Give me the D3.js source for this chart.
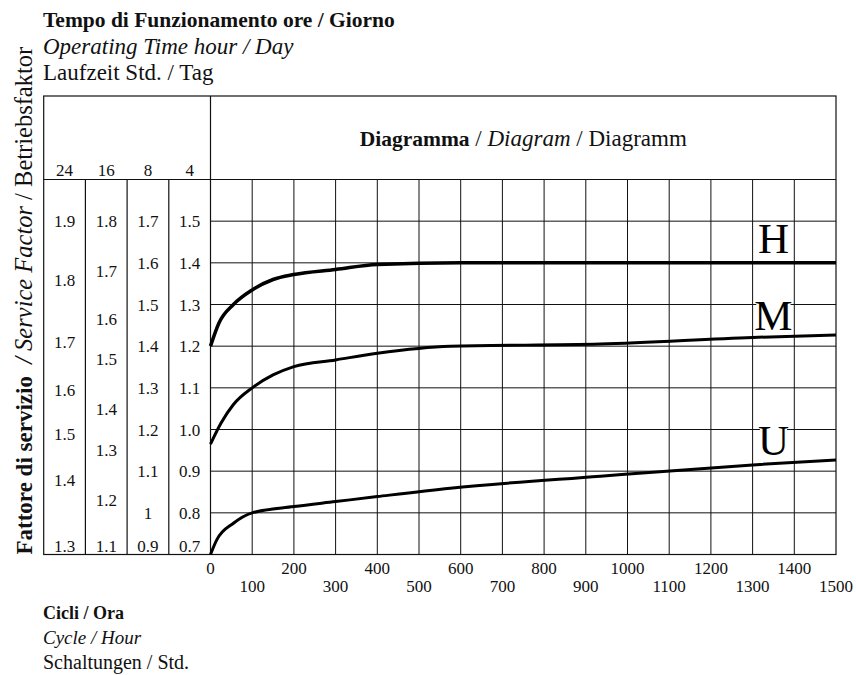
<!DOCTYPE html>
<html>
<head>
<meta charset="utf-8">
<script src="https://cdn.jsdelivr.net/npm/d3@7"></script>
<style>
  html, body { margin: 0; padding: 0; background: #fff; }
  svg { display: block; font-family: "Liberation Serif", "Times New Roman", serif; }
</style>
</head>
<body>
<svg id="chart" width="856" height="675"></svg>
<script>
// Cycles per hour (x) and service factor on the 4 h/day scale (y)
const cycleTicks = [0, 100, 200, 300, 400, 500, 600, 700, 800, 900, 1000, 1100, 1200, 1300, 1400, 1500];

const hCycles = [0, 20, 55, 100, 150, 200, 300, 400, 600, 1500];
const hFactor = [1.2, 1.255, 1.3, 1.335, 1.36, 1.372, 1.384, 1.396, 1.4, 1.4];

const mCycles = [0, 25, 55, 100, 150, 200, 300, 400, 575, 935, 1300, 1500];
const mFactor = [0.965, 1.015, 1.06, 1.1, 1.131, 1.151, 1.167, 1.183, 1.2, 1.205, 1.221, 1.227];

const uCycles = [0, 15, 55, 100, 200, 300, 400, 575, 935, 1300, 1500];
const uFactor = [0.7, 0.735, 0.775, 0.8, 0.815, 0.827, 0.839, 0.859, 0.888, 0.915, 0.927];

const curveNames = ["H", "M", "U"];

// Operating time columns (hours/day) with their factor labels and the
// equivalent factor on the 4 h/day scale for each label
const hoursPerDay = ["24", "16", "8", "4"];
const col24Labels = ["1.9", "1.8", "1.7", "1.6", "1.5", "1.4", "1.3"];
const col24Equiv  = [1.5, 1.36, 1.21, 1.095, 0.99, 0.88, 0.7];
const col16Labels = ["1.8", "1.7", "1.6", "1.5", "1.4", "1.3", "1.2", "1.1"];
const col16Equiv  = [1.5, 1.38, 1.265, 1.17, 1.05, 0.95, 0.83, 0.7];
const col8Labels  = ["1.7", "1.6", "1.5", "1.4", "1.3", "1.2", "1.1", "1", "0.9"];
const col8Equiv   = [1.5, 1.4, 1.3, 1.2, 1.1, 1.0, 0.9, 0.8, 0.7];
const col4Labels  = ["1.5", "1.4", "1.3", "1.2", "1.1", "1.0", "0.9", "0.8", "0.7"];
const col4Equiv   = [1.5, 1.4, 1.3, 1.2, 1.1, 1.0, 0.9, 0.8, 0.7];
const factorGrid  = [0.8, 0.9, 1.0, 1.1, 1.2, 1.3, 1.4, 1.5];

const svg = d3.select("#chart");

const x = d3.scaleLinear().domain([0, 1500]).range([210.5, 836]);
const y = d3.scaleLinear().domain([0.7, 1.6]).range([554.5, 179.5]);
const step = x(100) - x(0);

const boxLeft = x(0) - 4 * step;
const boxRight = x(1500);
const boxTop = 96;
const headerBottom = y(1.6);
const boxBottom = y(0.7);

const ink = "#111";

// Titles above the table
const titles = svg.append("g").attr("font-size", 23).attr("fill", ink);
titles.append("text").attr("x", 43).attr("y", 27).attr("font-weight", "bold")
  .attr("font-size", 21.5)
  .text("Tempo di Funzionamento ore / Giorno");
titles.append("text").attr("x", 43).attr("y", 54).attr("font-style", "italic")
  .text("Operating Time hour / Day");
titles.append("text").attr("x", 43).attr("y", 80)
  .text("Laufzeit Std. / Tag");

// Grid: vertical lines for cycles, horizontal lines for factor
const grid = svg.append("g").attr("stroke", ink).attr("stroke-width", 1).attr("fill", "none");
grid.selectAll("line.v").data(cycleTicks.filter(d => d > 0 && d < 1500)).join("line")
  .attr("class", "v")
  .attr("x1", d => x(d)).attr("x2", d => x(d))
  .attr("y1", headerBottom).attr("y2", boxBottom);
grid.selectAll("line.h").data(factorGrid).join("line")
  .attr("class", "h")
  .attr("x1", x(0)).attr("x2", boxRight)
  .attr("y1", d => y(d)).attr("y2", d => y(d));

// Table frame and column separators
const frame = svg.append("g").attr("stroke", ink).attr("stroke-width", 1.2).attr("fill", "none");
frame.append("rect").attr("x", boxLeft).attr("y", boxTop)
  .attr("width", boxRight - boxLeft).attr("height", boxBottom - boxTop);
frame.append("line").attr("x1", boxLeft).attr("x2", boxRight)
  .attr("y1", headerBottom).attr("y2", headerBottom);
frame.append("line").attr("x1", x(0)).attr("x2", x(0))
  .attr("y1", boxTop).attr("y2", boxBottom);
frame.selectAll("line.col").data([1, 2, 3]).join("line")
  .attr("class", "col")
  .attr("x1", i => boxLeft + i * step).attr("x2", i => boxLeft + i * step)
  .attr("y1", headerBottom).attr("y2", boxBottom);

// Column headers (hours per day)
svg.append("g").attr("font-size", 17).attr("fill", ink).attr("text-anchor", "middle")
  .selectAll("text").data(hoursPerDay).join("text")
  .attr("x", (d, i) => boxLeft + (i + 0.5) * step)
  .attr("y", headerBottom - 4)
  .text(d => d);

// Factor labels in each column
const columns = [
  { labels: col24Labels, equiv: col24Equiv },
  { labels: col16Labels, equiv: col16Equiv },
  { labels: col8Labels, equiv: col8Equiv },
  { labels: col4Labels, equiv: col4Equiv }
];
columns.forEach((col, i) => {
  const cx = boxLeft + (i + 0.5) * step;
  svg.append("g").attr("font-size", 17).attr("fill", ink).attr("text-anchor", "middle")
    .selectAll("text").data(col.labels).join("text")
    .attr("x", cx)
    .attr("y", (d, j) => Math.min(y(col.equiv[j]) + 6, boxBottom - 3))
    .text(d => d);
});

// Diagram heading
const head = svg.append("text").attr("x", (x(0) + boxRight) / 2).attr("y", 146)
  .attr("text-anchor", "middle").attr("font-size", 23).attr("fill", ink);
head.append("tspan").attr("font-weight", "bold").attr("font-size", 21.5).text("Diagramma");
head.append("tspan").text(" / ");
head.append("tspan").attr("font-style", "italic").text("Diagram");
head.append("tspan").text(" / Diagramm");

// Cycle tick labels, staggered on two rows
svg.append("g").attr("font-size", 17).attr("fill", ink).attr("text-anchor", "middle")
  .selectAll("text").data(cycleTicks).join("text")
  .attr("x", d => x(d))
  .attr("y", d => (d / 100) % 2 === 0 ? 574 : 592)
  .text(d => d);

// Curves
const line = d3.line()
  .x(d => x(d[0]))
  .y(d => y(d[1]))
  .curve(d3.curveMonotoneX);
const series = [
  d3.zip(hCycles, hFactor),
  d3.zip(mCycles, mFactor),
  d3.zip(uCycles, uFactor)
];
svg.append("g").attr("fill", "none").attr("stroke", "#000")
  .attr("stroke-width", 3).attr("stroke-linejoin", "round")
  .selectAll("path").data(series).join("path")
  .attr("stroke-width", (d, i) => i === 0 ? 3.5 : 3)
  .attr("d", line);

// Curve names placed above each curve near the right end
const nameSize = 43;
const nameX = x(1350);
curveNames.forEach((name, i) => {
  const pts = series[i];
  const yv = pts[pts.length - 1][1];
  const base = y(yv) - (i === 0 ? 10 : 5);
  const g = svg.append("g");
  const t = g.append("text").attr("x", nameX).attr("y", base)
    .attr("text-anchor", "middle").attr("font-size", nameSize).attr("fill", "#000")
    .text(name);
  const bb = t.node().getBBox();
  g.insert("rect", "text")
    .attr("x", bb.x + 2).attr("width", bb.width - 4)
    .attr("y", base - nameSize * 0.66).attr("height", nameSize * 0.66)
    .attr("fill", "#fff");
});

// Vertical axis title
const yt = svg.append("text")
  .attr("transform", `translate(32, ${boxBottom}) rotate(-90)`)
  .attr("font-size", 24.5).attr("fill", ink).attr("xml:space", "preserve");
yt.append("tspan").attr("font-weight", "bold").attr("font-size", 23).text("Fattore di servizio");
yt.append("tspan").attr("font-style", "italic").text("  / Service Factor");
yt.append("tspan").text(" / Betriebsfaktor");

// Horizontal axis title
const bottom = svg.append("g").attr("fill", ink);
bottom.append("text").attr("x", 43).attr("y", 619).attr("font-weight", "bold")
  .attr("font-size", 18).text("Cicli / Ora");
bottom.append("text").attr("x", 43).attr("y", 644).attr("font-style", "italic")
  .attr("font-size", 19).text("Cycle / Hour");
bottom.append("text").attr("x", 43).attr("y", 669)
  .attr("font-size", 20).text("Schaltungen / Std.");
</script>
</body>
</html>
